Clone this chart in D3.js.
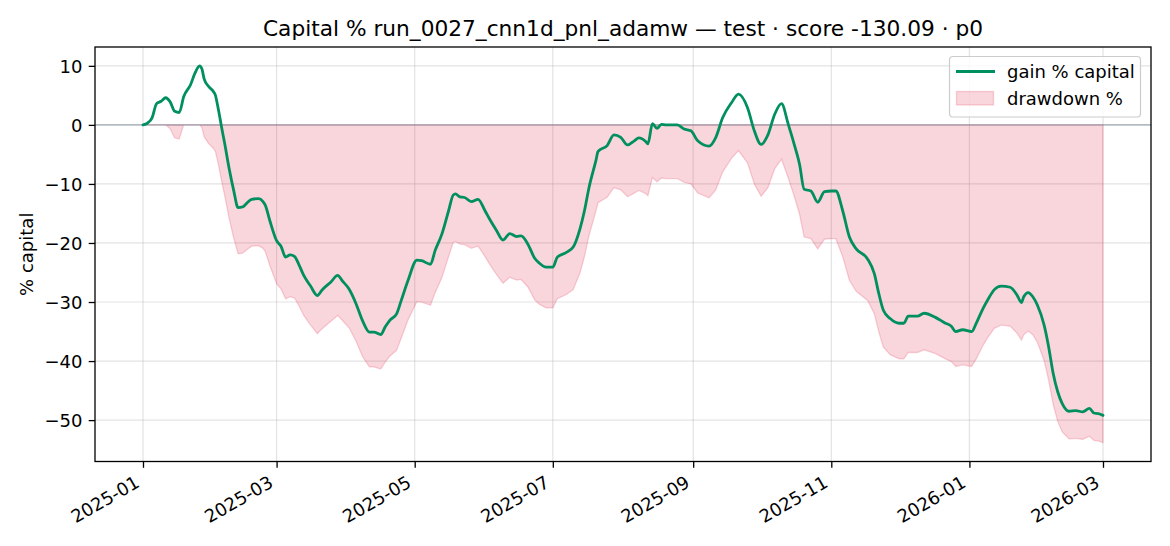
<!DOCTYPE html>
<html>
<head>
<meta charset="utf-8">
<script src="https://cdn.jsdelivr.net/npm/d3@7"></script>
<style>
  html, body { margin: 0; padding: 0; background: #fff; }
  svg { display: block; }
  text { font-family: "DejaVu Sans", sans-serif; fill: #000; }
</style>
</head>
<body>
<svg id="chart" width="1170" height="546"></svg>
<script>
const dates = [
  "2025-01-01","2025-01-03","2025-01-05","2025-01-07","2025-01-09","2025-01-11","2025-01-13","2025-01-15","2025-01-17","2025-01-19",
  "2025-01-22","2025-01-24","2025-01-26","2025-01-27","2025-01-28","2025-01-30","2025-02-01","2025-02-02","2025-02-03","2025-02-05",
  "2025-02-06","2025-02-08","2025-02-10","2025-02-12","2025-02-14","2025-02-16","2025-02-18","2025-02-21","2025-02-23","2025-02-24",
  "2025-02-26","2025-03-01","2025-03-03","2025-03-05","2025-03-07","2025-03-09","2025-03-11","2025-03-13","2025-03-16","2025-03-19",
  "2025-03-21","2025-03-25","2025-03-28","2025-03-30","2025-04-02","2025-04-05","2025-04-08","2025-04-11","2025-04-13","2025-04-16",
  "2025-04-18","2025-04-20","2025-04-23","2025-04-25","2025-04-28","2025-05-02","2025-05-04","2025-05-08","2025-05-10","2025-05-13",
  "2025-05-16","2025-05-18","2025-05-19","2025-05-21","2025-05-23","2025-05-26","2025-05-29","2025-06-01","2025-06-03","2025-06-06",
  "2025-06-09","2025-06-12","2025-06-15","2025-06-17","2025-06-20","2025-06-23","2025-06-25","2025-06-28","2025-07-01","2025-07-03",
  "2025-07-07","2025-07-10","2025-07-13","2025-07-15","2025-07-17","2025-07-20","2025-07-21","2025-07-25","2025-07-28","2025-07-31",
  "2025-08-03","2025-08-06","2025-08-08","2025-08-11","2025-08-12","2025-08-14","2025-08-16","2025-08-18","2025-08-20","2025-08-25",
  "2025-08-28","2025-08-31","2025-09-03","2025-09-08","2025-09-11","2025-09-14","2025-09-18","2025-09-21","2025-09-25","2025-09-28",
  "2025-10-01","2025-10-04","2025-10-07","2025-10-10","2025-10-13","2025-10-16","2025-10-18","2025-10-20","2025-10-23","2025-10-26",
  "2025-10-29","2025-11-01","2025-11-03","2025-11-06","2025-11-09","2025-11-12","2025-11-17","2025-11-20","2025-11-22","2025-11-24",
  "2025-11-27","2025-12-01","2025-12-03","2025-12-05","2025-12-09","2025-12-12","2025-12-17","2025-12-21","2025-12-24","2025-12-26",
  "2025-12-29","2026-01-02","2026-01-04","2026-01-07","2026-01-09","2026-01-12","2026-01-15","2026-01-19","2026-01-22","2026-01-24",
  "2026-01-25","2026-01-27","2026-01-29","2026-01-31","2026-02-03","2026-02-05","2026-02-07","2026-02-09","2026-02-11","2026-02-14",
  "2026-02-17","2026-02-20","2026-02-23","2026-02-25","2026-02-27","2026-03-01"
];

const gainPct = [
  0, 0.3, 1.2, 3.6, 4.0, 4.6, 3.9, 2.3, 2.1, 4.8,
  6.8, 8.8, 10.0, 9.5, 7.8, 6.5, 5.7, 5.0, 3.2, -1.0,
  -3.0, -7.3, -11.0, -14.0, -13.9, -13.2, -12.6, -12.5, -13.0, -13.6,
  -16.2, -19.6, -20.6, -22.4, -22.0, -22.3, -23.8, -25.5, -27.3, -28.9,
  -28.0, -26.6, -25.5, -26.4, -27.8, -30.2, -33.2, -35.1, -35.1, -35.5,
  -34.2, -33.1, -32.0, -29.8, -26.4, -22.9, -23.0, -23.6, -21.3, -18.5,
  -14.5, -11.9, -11.7, -12.2, -12.3, -13.0, -12.6, -14.5, -15.9, -17.8,
  -19.5, -18.4, -18.9, -18.8, -20.2, -22.6, -23.4, -24.1, -24.1, -22.4,
  -21.6, -20.7, -17.6, -14.5, -10.6, -6.1, -4.5, -3.5, -1.7, -2.1,
  -3.4, -2.7, -2.2, -2.8, -3.2, 0.2, -0.6, 0.1, 0.0, 0.0,
  -0.7, -1.0, -2.7, -3.6, -2.1, 1.2, 3.8, 5.2, 2.9, -1.0,
  -3.3, -1.7, 1.8, 3.6, 0.1, -3.8, -6.7, -10.9, -11.2, -13.1,
  -11.3, -11.2, -11.2, -14.5, -19.0, -21.0, -22.7, -25.2, -28.6, -31.4,
  -32.8, -33.6, -33.6, -32.4, -32.4, -31.9, -32.6, -33.5, -34.1, -35.0,
  -34.7, -35.0, -33.6, -31.1, -29.7, -27.9, -27.3, -27.5, -28.8, -30.1,
  -29.1, -28.4, -29.1, -30.5, -33.9, -37.6, -42.1, -45.2, -47.2, -48.5,
  -48.4, -48.6, -48.0, -48.8, -48.9, -49.2
];

const drawdownPct = [
  0, 0, 0, 0, 0, 0, -0.67, -2.20, -2.39, 0,
  0, 0, 0, -0.45, -2.0, -3.18, -3.91, -4.55, -6.18, -10.0,
  -11.82, -15.73, -19.09, -21.82, -21.73, -21.09, -20.55, -20.45, -20.91, -21.45,
  -23.82, -26.91, -27.82, -29.45, -29.09, -29.36, -30.73, -32.27, -33.91, -35.36,
  -34.55, -33.27, -32.27, -33.09, -34.36, -36.55, -39.27, -41.0, -41.0, -41.36,
  -40.18, -39.18, -38.18, -36.18, -33.09, -29.91, -30.0, -30.55, -28.45, -25.91,
  -22.27, -19.91, -19.73, -20.18, -20.27, -20.91, -20.55, -22.27, -23.55, -25.27,
  -26.82, -25.82, -26.27, -26.18, -27.45, -29.64, -30.36, -31.0, -31.0, -29.45,
  -28.73, -27.91, -25.09, -22.27, -18.73, -14.64, -13.18, -12.27, -10.64, -11.0,
  -12.18, -11.55, -11.09, -11.64, -12.0, -8.91, -9.64, -9.0, -9.09, -9.09,
  -9.73, -10.0, -11.55, -12.36, -11.0, -8.0, -5.64, -4.36, -6.45, -10.0,
  -12.09, -10.64, -7.45, -5.82, -9.0, -12.55, -15.18, -19.0, -19.27, -21.0,
  -19.36, -19.27, -19.27, -22.27, -26.36, -28.18, -29.73, -32.0, -35.09, -37.64,
  -38.91, -39.64, -39.64, -38.55, -38.55, -38.09, -38.73, -39.55, -40.09, -40.91,
  -40.64, -40.91, -39.64, -37.36, -36.09, -34.45, -33.91, -34.09, -35.27, -36.45,
  -35.55, -34.91, -35.55, -36.82, -39.91, -43.27, -47.36, -50.18, -52.0, -53.18,
  -53.09, -53.27, -52.73, -53.45, -53.55, -53.82
];

const xTickLabels = ["2025-01","2025-03","2025-05","2025-07","2025-09","2025-11","2026-01","2026-03"];
const yTickValues = [10, 0, -10, -20, -30, -40, -50];
const titleText = "Capital % run_0027_cnn1d_pnl_adamw \u2014 test \u00b7 score -130.09 \u00b7 p0";
const yLabelText = "% capital";
const legendLabels = ["gain % capital", "drawdown %"];

// ---------- layout ----------
const svg = d3.select("#chart");
const M = { left: 95, right: 1151, top: 47, bottom: 461.5 };
const parse = d3.utcParse("%Y-%m-%d");
const parseM = d3.utcParse("%Y-%m");
const data = dates.map((d, i) => ({ date: parse(d), gain: gainPct[i], dd: drawdownPct[i] }));

const x0 = data[0].date, x1 = data[data.length - 1].date;
const span = x1 - x0;
const x = d3.scaleUtc()
  .domain([new Date(+x0 - span * 0.05), new Date(+x1 + span * 0.05)])
  .range([M.left, M.right]);

const yMin = d3.min(data, d => Math.min(d.gain, d.dd));
const yMax = d3.max(data, d => Math.max(d.gain, d.dd));
const yPad = (yMax - yMin) * 0.05;
const y = d3.scaleLinear().domain([yMin - yPad, yMax + yPad]).range([M.bottom, M.top]);

const FS = 18;
const tickLen = 6.3, tickPad = 6.3;
const xTicks = xTickLabels.map(parseM);

// grid
const grid = svg.append("g");
grid.selectAll("line.gx").data(xTicks).join("line")
  .attr("x1", d => x(d)).attr("x2", d => x(d))
  .attr("y1", M.top).attr("y2", M.bottom)
  .attr("stroke", "#b0b0b0").attr("stroke-opacity", 0.35).attr("stroke-width", 1.2);
grid.selectAll("line.gy").data(yTickValues).join("line")
  .attr("x1", M.left).attr("x2", M.right)
  .attr("y1", d => y(d)).attr("y2", d => y(d))
  .attr("stroke", "#b0b0b0").attr("stroke-opacity", 0.35).attr("stroke-width", 1.2);

// drawdown area
const area = d3.area().x(d => x(d.date)).y0(y(0)).y1(d => y(d.dd));
svg.append("path").datum(data)
  .attr("d", area)
  .attr("fill", "crimson").attr("fill-opacity", 0.18)
  .attr("stroke", "crimson").attr("stroke-opacity", 0.18).attr("stroke-width", 1.3);

// zero line
svg.append("line")
  .attr("x1", M.left).attr("x2", M.right)
  .attr("y1", y(0)).attr("y2", y(0))
  .attr("stroke", "#708090").attr("stroke-opacity", 0.6).attr("stroke-width", 1.3);

// gain line
const line = d3.line().x(d => x(d.date)).y(d => y(d.gain)).curve(d3.curveMonotoneX);
svg.append("path").datum(data)
  .attr("d", line)
  .attr("fill", "none").attr("stroke", "#008f5f").attr("stroke-width", 2.8)
  .attr("stroke-linejoin", "round").attr("stroke-linecap", "round");

// frame
svg.append("rect")
  .attr("x", M.left).attr("y", M.top)
  .attr("width", M.right - M.left).attr("height", M.bottom - M.top)
  .attr("fill", "none").attr("stroke", "#000").attr("stroke-width", 1.3);

// x axis
const xAxis = d3.axisBottom(x).tickValues(xTicks).tickSize(tickLen).tickFormat("");
const gx = svg.append("g").attr("transform", `translate(0,${M.bottom})`).call(xAxis);
gx.select(".domain").remove();
gx.selectAll(".tick line").attr("stroke", "#000").attr("stroke-width", 1.3);
svg.append("g").selectAll("text").data(xTicks).join("text")
  .attr("transform", (d) => `translate(${x(d) - 2.2},${M.bottom + tickLen + tickPad + 11.9})rotate(-30)`)
  .attr("text-anchor", "end")
  .style("font-size", FS + "px")
  .text((d, i) => xTickLabels[i]);

// y axis
const yAxis = d3.axisLeft(y).tickValues(yTickValues).tickSize(tickLen)
  .tickFormat(d => d < 0 ? "\u2212" + Math.abs(d) : String(d));
const gy = svg.append("g").attr("transform", `translate(${M.left},0)`).call(yAxis);
gy.select(".domain").remove();
gy.selectAll(".tick line").attr("stroke", "#000").attr("stroke-width", 1.3);
gy.selectAll(".tick text")
  .attr("x", -(tickLen + tickPad)).attr("dy", "0.35em")
  .style("font-size", FS + "px").style("font-family", "DejaVu Sans").attr("fill", "#000");

// y label
svg.append("text")
  .attr("transform", `translate(33,${(M.top + M.bottom) / 2})rotate(-90)`)
  .attr("text-anchor", "middle")
  .style("font-size", FS + "px")
  .text(yLabelText);

// title
svg.append("text")
  .attr("x", (M.left + M.right) / 2).attr("y", 36)
  .attr("text-anchor", "middle")
  .style("font-size", "21.7px")
  .text(titleText);

// legend
const lg = svg.append("g");
lg.append("rect")
  .attr("x", 949.5).attr("y", 56.5).attr("width", 191).attr("height", 60.5)
  .attr("rx", 3.5).attr("fill", "#fff").attr("fill-opacity", 0.8)
  .attr("stroke", "#cccccc").attr("stroke-width", 1.2);
lg.append("line")
  .attr("x1", 956).attr("x2", 995).attr("y1", 71.5).attr("y2", 71.5)
  .attr("stroke", "#008f5f").attr("stroke-width", 2.8);
lg.append("rect")
  .attr("x", 956.5).attr("y", 91.5).attr("width", 37).attr("height", 13.5)
  .attr("fill", "crimson").attr("fill-opacity", 0.18)
  .attr("stroke", "crimson").attr("stroke-opacity", 0.18).attr("stroke-width", 1.3);
lg.selectAll("text.lt").data(legendLabels).join("text")
  .attr("x", 1007).attr("y", (d, i) => i === 0 ? 71.5 : 98.5)
  .attr("dy", "0.35em")
  .style("font-size", FS + "px")
  .text(d => d);
</script>
</body>
</html>
